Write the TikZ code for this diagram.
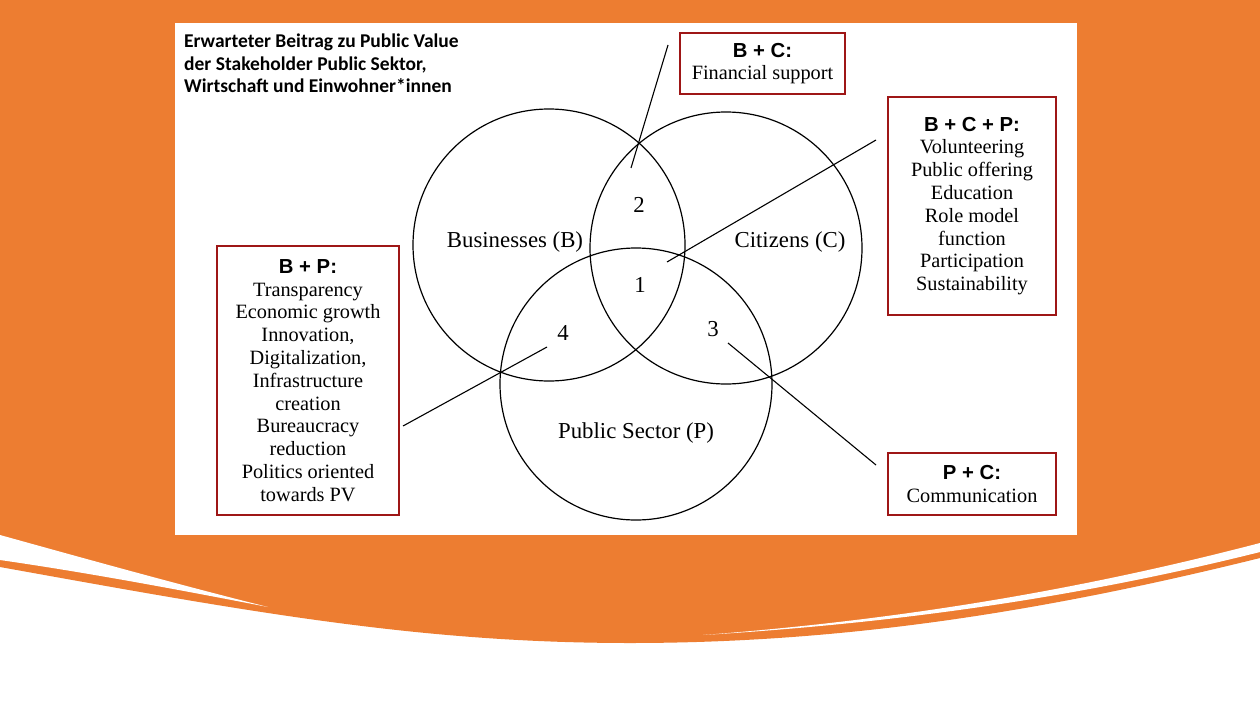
\documentclass[tikz,border=0pt]{standalone}
\usepackage{fontspec}
\setmainfont{Liberation Serif}
\newfontfamily\hfont{Liberation Sans}
\newfontfamily\tfont{Carlito}
\definecolor{orng}{RGB}{237,125,49}
\definecolor{boxred}{RGB}{158,22,22}
\begin{document}
\begin{tikzpicture}[x=1pt,y=-1pt,
  venn/.style={draw=black,line width=1.2pt,circle,minimum size=272pt,inner sep=0pt},
  lbl/.style={font=\fontsize{22.8}{25}\selectfont,inner sep=0pt},
  infobox/.style={draw=boxred,line width=2.6pt,fill=white,align=center,inner sep=0pt,
     font=\fontsize{20.3}{22.8}\selectfont},
  conn/.style={draw=black,line width=1.1pt}]
\useasboundingbox (0,0) rectangle (1260,709);
% background
\fill[white] (0,0) rectangle (1260,709);
\fill[orng] (0,0) -- (1260,0) -- (1260,558)
  .. controls (1050,610) and (850,643) .. (630,643)
  .. controls (420,643) and (250,612) .. (0,567) -- cycle;
% white slivers
\fill[white] (0,535) .. controls (90,560) and (180,585) .. (268,607)
  .. controls (180,590) and (90,573) .. (0,560) -- cycle;
\fill[white] (1260,543) .. controls (1080,590) and (900,620) .. (703,635)
  .. controls (900,623) and (1080,597) .. (1260,552) -- cycle;
% panel
\fill[white] (175,23) rectangle (1077,535);
% title
\node[anchor=north west,align=left,inner sep=0pt,font=\tfont\bfseries\fontsize{19.5}{22.5}\selectfont]
  (title) at (184,34) {Erwarteter Beitrag zu Public Value\\der Stakeholder Public Sektor,\\Wirtschaft und Einwohner*innen};
% circles
\node[venn] (B) at (549,245) {};
\node[venn] (C) at (726,248) {};
\node[venn] (P) at (636,384) {};
% labels
\node[lbl] (lB) at (515,242) {Businesses (B)};
\node[lbl] (lC) at (790,242) {Citizens (C)};
\node[lbl] (lP) at (636,433) {Public Sector (P)};
\node[lbl] (n2) at (639,205) {2};
\node[lbl] (n1) at (640,285) {1};
\node[lbl] (n4) at (563,333) {4};
\node[lbl] (n3) at (713,329) {3};
% boxes
\node[infobox,minimum width=165pt,minimum height=61pt] (bc) at (762.5,63.5)
  {{\hfont\bfseries B + C:}\\Financial support};
\node[infobox,minimum width=168pt,minimum height=218pt] (bcp) at (972,206)
  {{\hfont\bfseries B + C + P:}\\Volunteering\\Public offering\\Education\\Role model\\function\\Participation\\Sustainability};
\node[infobox,minimum width=168pt,minimum height=62pt] (pc) at (972,484)
  {{\hfont\bfseries P + C:}\\Communication};
\node[infobox,minimum width=182pt,minimum height=269pt] (bp) at (308,380.5)
  {{\hfont\bfseries B + P:}\\Transparency\\Economic growth\\Innovation,\\Digitalization,\\Infrastructure\\creation\\Bureaucracy\\reduction\\Politics oriented\\towards PV};
% connectors
\coordinate (s2) at (631,168); \coordinate (e2) at (668,45);
\coordinate (s1) at (667,262); \coordinate (e1) at (876,140);
\coordinate (s3) at (728,343); \coordinate (e3) at (876,465);
\coordinate (s4) at (547,347); \coordinate (e4) at (403,426);
\draw[conn] (s2) -- (e2);
\draw[conn] (s1) -- (e1);
\draw[conn] (s3) -- (e3);
\draw[conn] (s4) -- (e4);
\end{tikzpicture}
\end{document}
